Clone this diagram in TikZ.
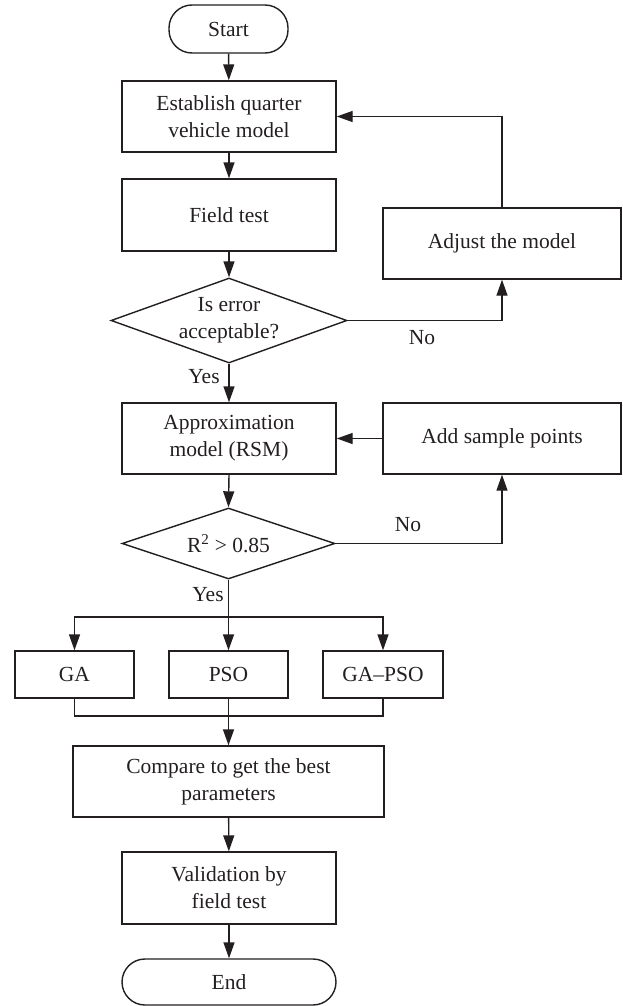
\documentclass[tikz,border=0pt]{standalone}
\usepackage{fontspec}
\setmainfont{Liberation Serif}
\usetikzlibrary{arrows.meta,shapes.geometric}
\definecolor{ink}{HTML}{231F20}
\begin{document}
\begin{tikzpicture}[x=1pt,y=-1pt,
  every node/.style={font=\fontsize{21.5}{27}\selectfont, text=ink},
  box/.style={draw=ink, line width=1.4pt, rectangle, inner sep=0pt, align=center},
  term/.style={box, rounded corners=23pt},
  dec/.style={draw=ink, line width=1.4pt, diamond, inner sep=0pt},
  conn/.style={draw=ink, line width=1.4pt},
  arr/.style={conn, -{Triangle[length=16pt,width=11pt]}},
  lbl/.style={inner sep=0pt}
]
\useasboundingbox (0,0) rectangle (623,1006);

\node[term, minimum width=119pt, minimum height=48pt] (start) at (228.5,29) {Start};
\node[box, minimum width=214pt, minimum height=71pt] (est) at (229,116.5) {Establish quarter\\vehicle model};
\node[box, minimum width=214pt, minimum height=72pt] (field) at (229,215) {Field test};
\node[box, minimum width=238pt, minimum height=71pt] (adjust) at (502,243.5) {Adjust the model};
\node[dec, minimum width=236pt, minimum height=85pt,
  label={[align=center,lbl]center:Is error\\acceptable?}] (dia1) at (229,320.5) {};
\node[box, minimum width=214pt, minimum height=71pt] (approx) at (229,438.5) {Approximation\\model (RSM)};
\node[box, minimum width=238pt, minimum height=71pt] (add) at (502,438.5) {Add sample points};
\node[dec, minimum width=213pt, minimum height=71pt,
  label={[lbl]center:R\textsuperscript{2} > 0.85}] (dia2) at (228.5,543.5) {};
\node[box, minimum width=119pt, minimum height=47pt] (ga) at (74.5,674.5) {GA};
\node[box, minimum width=119pt, minimum height=47pt] (pso) at (228.5,674.5) {PSO};
\node[box, minimum width=120pt, minimum height=47pt] (gapso) at (383,674.5) {GA–PSO};
\node[box, minimum width=311pt, minimum height=71pt] (cmp) at (228.5,781.5) {Compare to get the best\\parameters};
\node[box, minimum width=214pt, minimum height=72pt] (valid) at (229,888) {Validation by\\field test};
\node[term, minimum width=214pt, minimum height=46pt] (end) at (229,982) {End};

\coordinate (split) at (228.5,617);
\coordinate (merge) at (228.5,716);

\draw[arr] (start) -- (est);
\draw[arr] (est) -- (field);
\draw[arr] (field) -- (dia1);
\draw[arr] (dia1.east) -- (dia1.east -| adjust.south) -- (adjust.south);
\draw[arr] (adjust.north) -- (adjust.north |- est.east) -- (est.east);
\draw[arr] (dia1.south) -- (approx.north);
\draw[arr] (add.west) -- (approx.east);
\draw[arr] (approx.south) -- (dia2.north);
\draw[arr] (dia2.east) -- (dia2.east -| add.south) -- (add.south);
\draw[conn] (dia2.south) -- (split);
\draw[arr] (split) -| (ga.north);
\draw[arr] (split) -- (pso.north);
\draw[arr] (split) -| (gapso.north);
\draw[conn] (ga.south) |- (merge);
\draw[conn] (gapso.south) |- (merge);
\draw[arr] (pso.south) -- (cmp.north);
\draw[arr] (cmp) -- (valid);
\draw[arr] (valid) -- (end);

\node[lbl] (no1) at (422,338) {No};
\node[lbl] (yes1) at (204,377) {Yes};
\node[lbl] (no2) at (408,525) {No};
\node[lbl] (yes2) at (208,595) {Yes};
\end{tikzpicture}
\end{document}
